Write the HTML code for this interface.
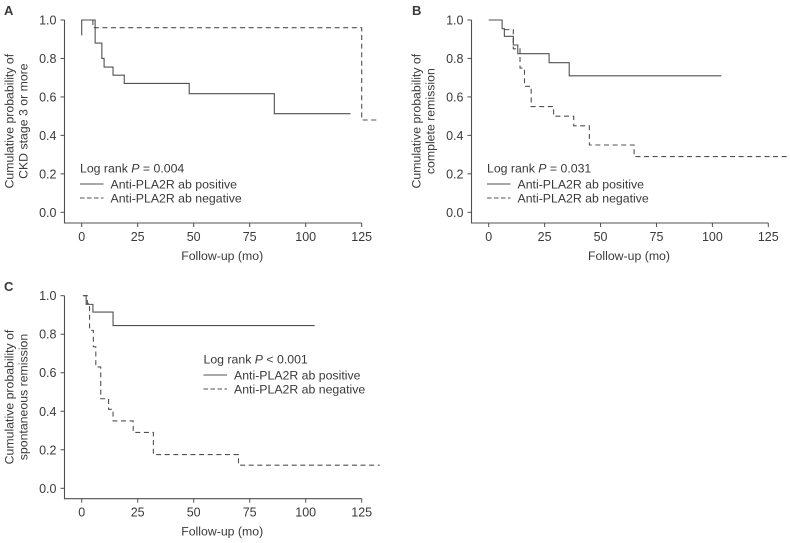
<!DOCTYPE html>
<html lang="en">
<head>
<meta charset="utf-8">
<title>Kaplan-Meier curves by anti-PLA2R antibody status</title>
<style>
html,body{margin:0;padding:0;background:#fff;}
#wrap{width:790px;height:543px;overflow:hidden;}
svg{display:block;}
text{font-family:"Liberation Sans",Arial,sans-serif;fill:#3a3a3a;}
</style>
</head>
<body>
<div id="wrap">
<svg id="fig" width="790" height="543" viewBox="0 0 790 543" xmlns="http://www.w3.org/2000/svg"></svg>
</div>
<script>
// Tick labels
const xTicks = [0, 25, 50, 75, 100, 125];
const yTicks = [0, 0.2, 0.4, 0.6, 0.8, 1.0];

// Panel A
const aPosTimes = [0, 0, 6, 9, 10, 14, 19, 48, 86, 120];
const aPosValues = [0.92, 1.0, 0.88, 0.80, 0.755, 0.713, 0.67, 0.617, 0.513, 0.513];
const aNegTimes = [5, 5, 125, 133];
const aNegValues = [1.0, 0.96, 0.48, 0.48];

// Panel B
const bPosTimes = [0, 6, 7, 11, 13, 27, 36, 104];
const bPosValues = [1.0, 0.955, 0.915, 0.87, 0.825, 0.778, 0.71, 0.71];
const bNegTimes = [7, 11, 14, 16, 19, 29, 38, 45, 65, 133.5];
const bNegValues = [0.95, 0.85, 0.75, 0.655, 0.55, 0.50, 0.45, 0.35, 0.29, 0.29];

// Panel C
const cPosTimes = [1, 2, 5, 14, 104];
const cPosValues = [1.0, 0.955, 0.915, 0.845, 0.845];
const cNegTimes = [0.5, 2.5, 3.5, 5.2, 6.3, 8.5, 12, 14, 23, 32, 70, 133];
const cNegValues = [1.0, 0.96, 0.82, 0.735, 0.63, 0.465, 0.41, 0.35, 0.29, 0.175, 0.12, 0.12];

const NS = 'http://www.w3.org/2000/svg';
const svg = document.getElementById('fig');
const LINE = '#505050';
const TEXT_SIZE = 12.3;

function make(tag, attrs, parent) {
  const el = document.createElementNS(NS, tag);
  for (const k in attrs) el.setAttribute(k, attrs[k]);
  parent.appendChild(el);
  return el;
}

function stepPath(times, values, sx, sy) {
  let d = 'M' + sx(times[0]).toFixed(2) + ' ' + sy(values[0]).toFixed(2);
  for (let i = 1; i < times.length; i++) {
    d += 'H' + sx(times[i]).toFixed(2) + 'V' + sy(values[i]).toFixed(2);
  }
  return d;
}

function drawPanel(cfg) {
  const g = make('g', {}, svg);
  
  

  const sx = t => cfg.x0 + t * (cfg.x125 - cfg.x0) / 125;
  const sy = v => cfg.y0 - v * (cfg.y0 - cfg.y1) / 1;

  const letter = make('text', {x: cfg.letterX, y: cfg.letterY, 'font-size': 13, 'font-weight': 'bold'}, g);
  letter.textContent = cfg.letter;
  
  

  const yAxis = make('line', {x1: cfg.axisX, x2: cfg.axisX, y1: sy(1), y2: cfg.axisY + 0.5, stroke: LINE, 'stroke-width': 1.1}, g);
  
  

  const xAxis = make('line', {x1: cfg.axisX, x2: sx(125), y1: cfg.axisY, y2: cfg.axisY, stroke: LINE, 'stroke-width': 1.1}, g);
  
  

  xTicks.forEach(t => {
    const tick = make('line', {x1: sx(t), x2: sx(t), y1: cfg.axisY, y2: cfg.axisY + 4, stroke: LINE, 'stroke-width': 1}, g);
    
    
    const lab = make('text', {x: sx(t), y: cfg.axisY + 18, 'font-size': 12.5, 'text-anchor': 'middle'}, g);
    lab.textContent = String(t);
    
    
  });

  yTicks.forEach(v => {
    const tick = make('line', {x1: cfg.axisX - 4, x2: cfg.axisX, y1: sy(v), y2: sy(v), stroke: LINE, 'stroke-width': 1}, g);
    
    
    const lab = make('text', {x: cfg.axisX - 8, y: sy(v) + 4.5, 'font-size': 12.5, 'text-anchor': 'end'}, g);
    lab.textContent = v.toFixed(1);
    
    
  });

  const xTitle = make('text', {x: sx(62.5) + 0.5, y: cfg.axisY + 37, 'font-size': TEXT_SIZE, 'text-anchor': 'middle'}, g);
  xTitle.textContent = 'Follow-up (mo)';
  
  

  const midY = (sy(1) + sy(0)) / 2 + cfg.titleShift;
  const t1 = make('text', {transform: 'translate(' + cfg.titleX1 + ' ' + midY + ') rotate(-90)', 'font-size': TEXT_SIZE, 'text-anchor': 'middle'}, g);
  t1.textContent = cfg.title[0];
  
  
  const t2 = make('text', {transform: 'translate(' + (cfg.titleX1 + 14) + ' ' + midY + ') rotate(-90)', 'font-size': TEXT_SIZE, 'text-anchor': 'middle'}, g);
  t2.textContent = cfg.title[1];
  
  

  const pos = make('path', {d: stepPath(cfg.posT, cfg.posV, sx, sy), fill: 'none', stroke: LINE, 'stroke-width': 1.1}, g);
  
  
  const neg = make('path', {d: stepPath(cfg.negT, cfg.negV, sx, sy), fill: 'none', stroke: LINE, 'stroke-width': 1.1, 'stroke-dasharray': '5 3.6'}, g);
  
  

  const lx = cfg.legX, ly = cfg.legY;
  const logrank = make('text', {x: lx, y: ly - 0.5, 'font-size': TEXT_SIZE}, g);
  
  
  const a = make('tspan', {}, logrank); a.textContent = 'Log rank ';
  const p = make('tspan', {'font-style': 'italic'}, logrank); p.textContent = 'P';
  const b = make('tspan', {}, logrank); b.textContent = cfg.pText;

  const k1 = make('line', {x1: lx, x2: lx + 23.5, y1: ly + 11, y2: ly + 11, stroke: LINE, 'stroke-width': 1}, g);
  
  
  const l1 = make('text', {x: lx + 30.5, y: ly + 15.5, 'font-size': TEXT_SIZE}, g);
  l1.textContent = 'Anti-PLA2R ab positive';
  
  

  const k2 = make('line', {x1: lx, x2: lx + 23.5, y1: ly + 25, y2: ly + 25, stroke: LINE, 'stroke-width': 1, 'stroke-dasharray': '4.5 2.5'}, g);
  
  
  const l2 = make('text', {x: lx + 30.5, y: ly + 29.5, 'font-size': TEXT_SIZE}, g);
  l2.textContent = 'Anti-PLA2R ab negative';
  
  
}

drawPanel({
  letter: 'A', letterX: 4, letterY: 15,
  x0: 81.7, x125: 361.7, y1: 20, y0: 212.3, axisX: 64.5, axisY: 223,
  titleX1: 13.5, titleShift: 5,
  title: ['Cumulative probability of', 'CKD stage 3 or more'],
  posT: aPosTimes, posV: aPosValues, negT: aNegTimes, negV: aNegValues,
  legX: 80, legY: 173, pText: ' = 0.004'
});

drawPanel({
  letter: 'B', letterX: 412, letterY: 15,
  x0: 488.7, x125: 768.3, y1: 20, y0: 212.3, axisX: 471.5, axisY: 223,
  titleX1: 420.5, titleShift: 5,
  title: ['Cumulative probability of', 'complete remission'],
  posT: bPosTimes, posV: bPosValues, negT: bNegTimes, negV: bNegValues,
  legX: 487, legY: 173, pText: ' = 0.031'
});

drawPanel({
  letter: 'C', letterX: 4, letterY: 291,
  x0: 81.7, x125: 361.7, y1: 295.7, y0: 488.3, axisX: 64.5, axisY: 498.7,
  titleX1: 13.5, titleShift: 5,
  title: ['Cumulative probability of', 'spontaneous remission'],
  posT: cPosTimes, posV: cPosValues, negT: cNegTimes, negV: cNegValues,
  legX: 203.5, legY: 364, pText: ' < 0.001'
});
</script>
</body>
</html>
